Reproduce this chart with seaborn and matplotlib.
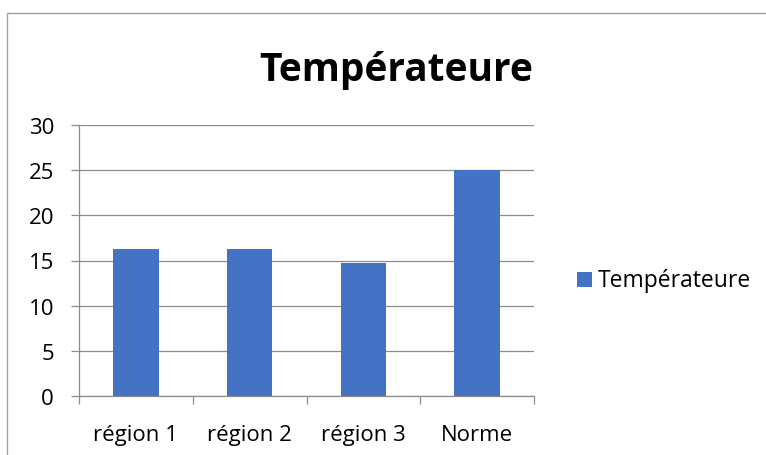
import matplotlib
matplotlib.use("Agg")
import matplotlib.pyplot as plt
from matplotlib.patches import Rectangle
import seaborn as sns
import pandas as pd

categories = ["région 1", "région 2", "région 3", "Norme"]
temperatures = [16.25, 16.25, 14.7, 25]
series_name = "Températeure"
y_ticks = [0, 5, 10, 15, 20, 25, 30]

sns.set_theme(style="white")
plt.rcParams["font.family"] = ["Open Sans", "DejaVu Sans"]

W, H = 766, 456
fig = plt.figure(figsize=(W / 100, H / 100), dpi=100)
ax = fig.add_axes([79 / W, 1 - 397 / H, (534 - 79) / W, (397 - 126) / H])

df = pd.DataFrame({"categorie": categories, "valeur": temperatures})
sns.barplot(data=df, x="categorie", y="valeur", color="#4472C4", width=0.4,
            saturation=1, linewidth=0, ax=ax, zorder=3)

grid_color = "#8c8c8c"
ax.set_ylim(0, 30)
ax.set_xlim(-0.5, len(categories) - 0.5)
ax.set_yticks(y_ticks)
ax.set_yticklabels([str(t) for t in y_ticks])
ax.yaxis.grid(True, color=grid_color, linewidth=0.9, zorder=0)
ax.set_axisbelow(True)
ax.set_xlabel("")
ax.set_ylabel("")

for side in ["top", "right"]:
    ax.spines[side].set_visible(False)
for side in ["left", "bottom"]:
    ax.spines[side].set_color(grid_color)
    ax.spines[side].set_linewidth(0.9)

tick_size = 16
ax.tick_params(axis="y", which="major", length=6, width=0.9, color=grid_color,
               labelsize=tick_size, labelcolor="black", pad=12, left=True)
ax.tick_params(axis="x", which="major", length=0, labelsize=tick_size,
               labelcolor="black", pad=20)
ax.set_xticks([i - 0.5 for i in range(len(categories) + 1)], minor=True)
ax.tick_params(axis="x", which="minor", length=6, width=0.9, color=grid_color,
               bottom=True)

fig.text(396 / W, 1 - 81 / H, series_name, ha="center", va="baseline",
         fontsize=28, fontweight="bold", color="black")

# legend square and label
fig.patches.append(Rectangle((577 / W, 1 - 288 / H), 15 / W, 15 / H,
                             transform=fig.transFigure, facecolor="#4472C4",
                             edgecolor="none"))
fig.text(598 / W, 1 - 287 / H, series_name, ha="left", va="baseline",
         fontsize=16.5, color="black")

# chart frame
fig.patches.append(Rectangle((7 / W, -0.1), 1.2, (1 - 14 / H) + 0.1,
                             transform=fig.transFigure, facecolor="none",
                             edgecolor="#a0a0a0", linewidth=1))

fig.savefig("out.png", dpi=100)
